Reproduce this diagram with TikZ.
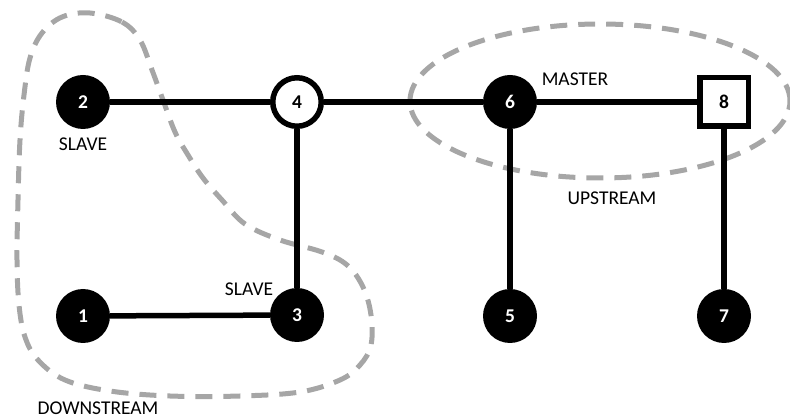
\documentclass[tikz,border=0pt]{standalone}
\usepackage{fontspec}
\setmainfont{Carlito}
\definecolor{zonegray}{HTML}{A6A6A6}
\begin{document}
\begin{tikzpicture}[x=1pt,y=-1pt,
  wire/.style={line width=5.5pt},
  zone/.style={draw=zonegray, line width=5pt, dash pattern=on 17pt off 11pt},
  numfont/.style={font=\fontsize{19.5}{20}\selectfont\bfseries},
  fullnode/.style={circle, fill=black, minimum size=54pt, inner sep=0pt, text=white, numfont},
  ringnode/.style={circle, draw=black, fill=white, line width=5.5pt, minimum size=48.5pt, inner sep=0pt, numfont},
  sqnode/.style={rectangle, draw=black, fill=white, line width=5.5pt, minimum size=48.5pt, inner sep=0pt, numfont},
  lbl/.style={inner sep=0pt, font=\fontsize{19.5}{20}\selectfont}]
\useasboundingbox (0,0) rectangle (790,419);

% grouping outlines
\draw[zone] plot[smooth cycle, tension=0.6] coordinates {
  (90,13) (122,22) (140,40) (152,70) (163,100) (175,132) (188,155) (203,178)
  (222,200) (245,224) (280,240) (322,252) (347,265) (363,287) (371,315)
  (371,345) (360,365) (340,380) (300,392) (240,396) (170,396) (110,391)
  (65,380) (38,360) (25,337) (19,305) (17,260) (18,200) (20,140) (24,95)
  (30,58) (42,33) (62,17)};
\draw[zone] (600,101) ellipse [x radius=190pt, y radius=77pt];

% nodes
\node[fullnode] (n1) at (83,316) {1};
\node[fullnode] (n2) at (83,102) {2};
\node[fullnode] (n3) at (297,315) {3};
\node[ringnode] (n4) at (297,102) {4};
\node[fullnode] (n5) at (510,316) {5};
\node[fullnode] (n6) at (510,102) {6};
\node[fullnode] (n7) at (724,316) {7};
\node[sqnode]   (n8) at (724,102) {8};

% links
\draw[wire] (n2) -- (n4);
\draw[wire] (n4) -- (n6);
\draw[wire] (n6) -- (n8);
\draw[wire] (n1) -- (n3);
\draw[wire] (n4) -- (n3);
\draw[wire] (n6) -- (n5);
\draw[wire] (n8) -- (n7);

% labels
\node[lbl] (s2) at (83,144.5) {SLAVE};
\node[lbl] (s3) at (249,289) {SLAVE};
\node[lbl] (ms) at (575,79) {MASTER};
\node[lbl] (up) at (612,198) {UPSTREAM};
\node[lbl] (dn) at (98,408) {DOWNSTREAM};
\end{tikzpicture}
\end{document}
